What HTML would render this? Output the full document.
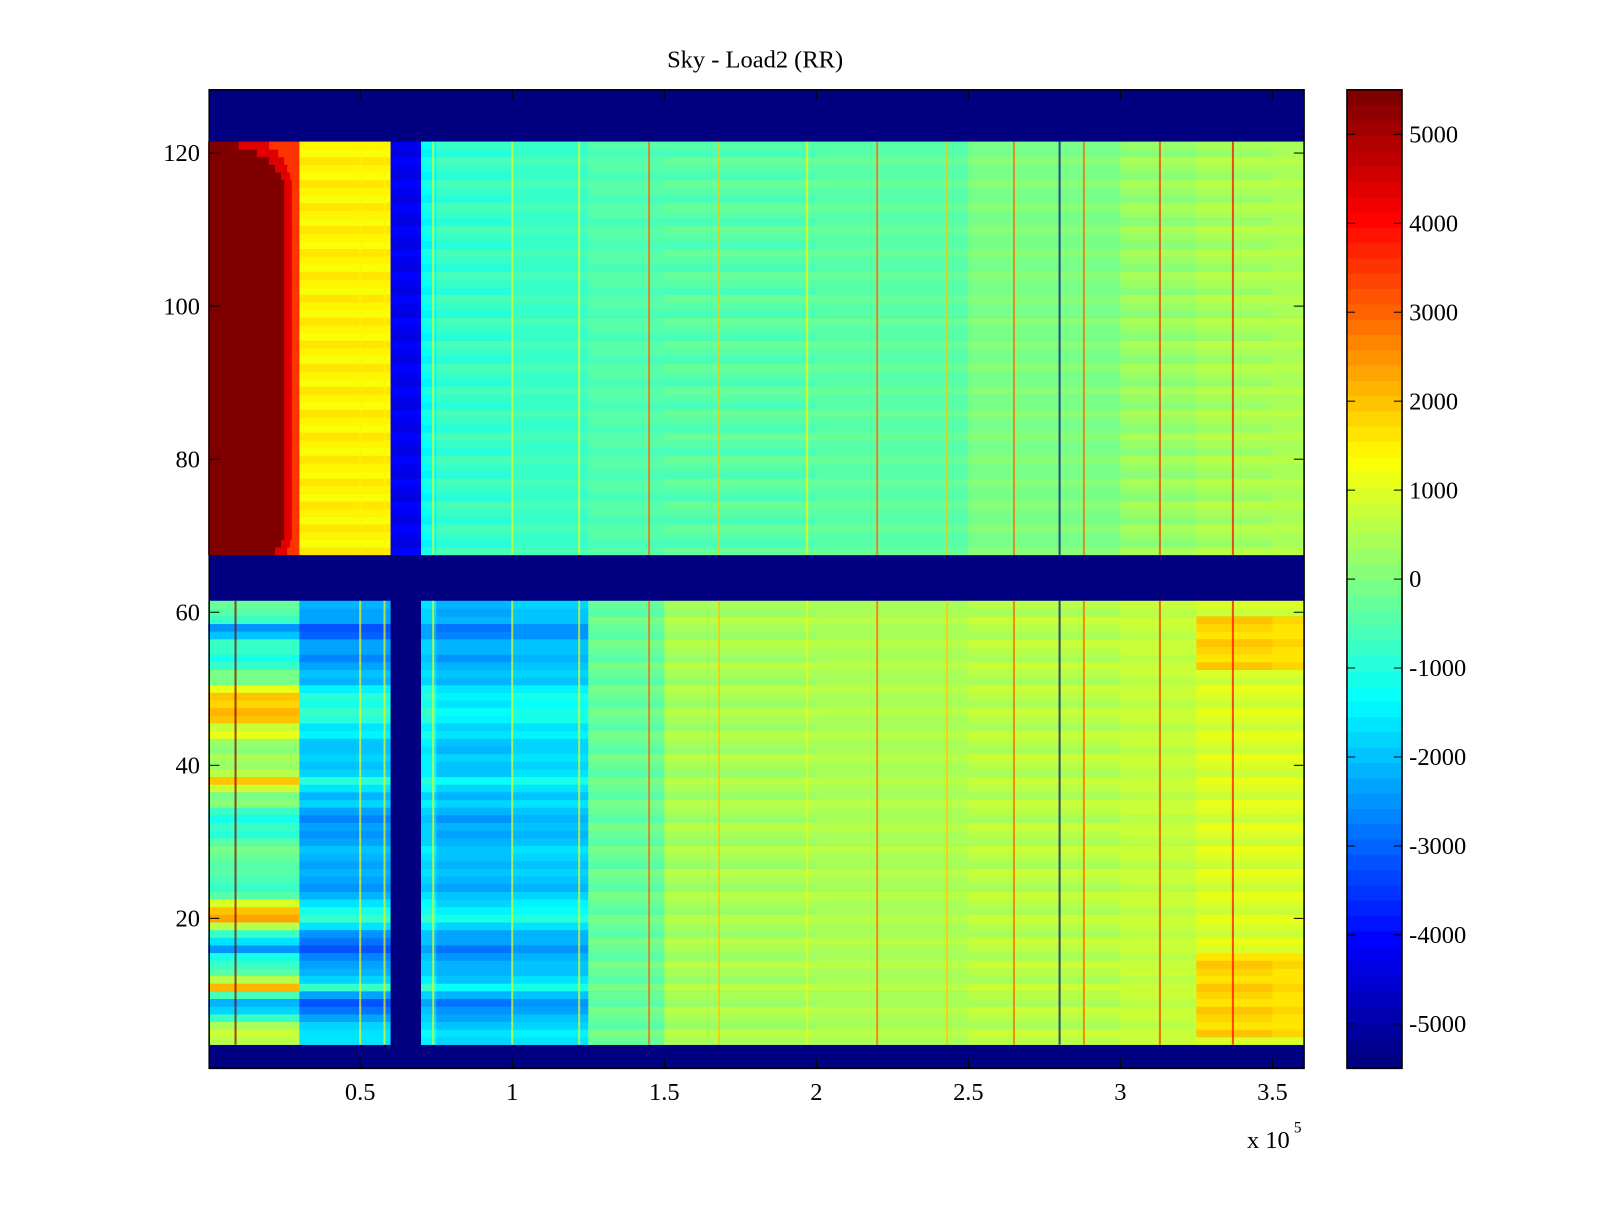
<!DOCTYPE html>
<html><head><meta charset="utf-8">
<style>
body{margin:0;background:#fff;}
svg text{font-family:"Liberation Serif",serif;font-size:24px;fill:#000;}
</style></head>
<body>
<svg id="chart" width="1600" height="1200" viewBox="0 0 1568 1176" preserveAspectRatio="none" xmlns="http://www.w3.org/2000/svg">
<rect width="1568" height="1176" fill="#fff"/>
<text x="740" y="66" text-anchor="middle">Sky - Load2 (RR)</text>
<g id="cells"></g>
<g id="spikes"></g>
<rect x="205" y="88" width="1073" height="959" fill="none" stroke="#000" stroke-width="1.5"/>
<g id="axes"></g>
<g id="cbar"></g>
<text x="1222" y="1125">x 10</text>
<text x="1268" y="1110" style="font-size:15px">5</text>
</svg>
<script>
// ---- data ----
const xTicks = [0.5, 1, 1.5, 2, 2.5, 3, 3.5];
const xTickLabels = ["0.5", "1", "1.5", "2", "2.5", "3", "3.5"];
const yTicks = [20, 40, 60, 80, 100, 120];
const cbTicks = [5000, 4000, 3000, 2000, 1000, 0, -1000, -2000, -3000, -4000, -5000];
const colStarts = [0,0.3,0.6,0.7,0.75,1.0,1.25,1.5,2.0,2.5,3.0,3.25,3.5];
const upperVals = [5500,1500,-4200,-1300,-800,-700,-500,-450,-350,0,250,400,500];
const lowerVals = [0,-2000,-5500,-1600,-2000,-1800,-300,400,500,600,700,1000,900];
const lowerRowAdj = [600,600,600,-800,-2000,-2000,-600,2000,800,-400,-900,-900,-2500,-1800,-600,600,2200,2200,900,-600,-600,-600,-600,-200,-200,-200,-200,-900,-900,-900,-700,0,0,800,1800,800,200,200,200,200,900,900,2000,2000,2000,2000,900,0,0,-900,-900,-700,-1000,-1800,-2500,-1000,-300,-300];
const hotRows = [5,6,7,8,9,10,11,12,13,14,15,53,54,55,56,57,58,59];
const upperRedEdge = [0.1,0.16,0.2,0.22,0.24,0.25];
const spikeX = [0.09,0.5,0.58,0.74,1.0,1.22,1.45,1.68,1.97,2.2,2.43,2.65,2.8,2.88,3.13,3.37];
const spikeVal = [5500,1500,1500,1200,1200,1200,3000,2000,1500,3000,2000,3000,-5500,3000,3500,4000];
const clim = [-5500, 5500];
// ---- scales ----
const X0=205,X1=1278,Y0=88,Y1=1047;
const xs = v => 204 + v*298;
const ys = r => 1050 - r*7.5;
function jet(v){
  let t=(v-clim[0])/(clim[1]-clim[0]); t=Math.max(0,Math.min(1,t));
  t=Math.floor(t*63.999)/63;
  const f=x=>Math.max(0,Math.min(1,x));
  const r=f(1.5-Math.abs(4*t-3)), g=f(1.5-Math.abs(4*t-2)), b=f(1.5-Math.abs(4*t-1));
  return `rgb(${Math.round(r*255)},${Math.round(g*255)},${Math.round(b*255)})`;
}
const NS="http://www.w3.org/2000/svg";
function mk(tag,attrs,parent){const e=document.createElementNS(NS,tag);for(const k in attrs)e.setAttribute(k,attrs[k]);parent.appendChild(e);return e;}
const cells=document.getElementById('cells');
const bg=mk('rect',{x:X0,y:Y0,width:X1-X0,height:Y1-Y0,fill:jet(-5500)},cells);


function segEnd(i){return i+1<colStarts.length?colStarts[i+1]:3.604;}
function cell(x0,x1,r,v){
  const e=mk('rect',{x:xs(x0),y:ys(r+0.5),width:xs(x1)-xs(x0)+0.3,height:7.8,fill:jet(v)},cells);
  
  
}
for(let r=68;r<=121;r++){
  for(let i=0;i<colStarts.length;i++){
    let x0=colStarts[i],x1=segEnd(i),v=upperVals[i];
    if(i===0){
      const k=(r>=116)?Math.min(5,121-r):(r<=70?r-68+3:5);
      const edge=upperRedEdge[Math.max(0,Math.min(5,k))];
      cell(x0,edge,r,v);
      const mid=(edge+x1)/2;
      cell(edge,mid,r,4300);
      cell(mid,x1,r,3500);
      continue;
    }
    cell(x0,x1,r,v+((r%3)-1)*150);
  }
}
for(let r=4;r<=61;r++){
  const adj=lowerRowAdj[r-4];
  for(let i=0;i<colStarts.length;i++){
    let v=lowerVals[i];
    if(i===0) v+=adj;
    else if(i===1) v+=adj*0.5;
    else if(i>=3&&i<=5) v+=adj*0.3;
    if(i>=11 && hotRows.indexOf(r)>=0) v+=800;
    cell(colStarts[i],segEnd(i),r,v+((r%3)-1)*150);
  }
}
const sp=document.getElementById('spikes');
spikeX.forEach((sx,i)=>{
  [[3.5,61.5],[67.5,121.5]].forEach(b=>{
    const e=mk('rect',{x:xs(sx)-1,y:ys(b[1]),width:2,height:ys(b[0])-ys(b[1]),fill:jet(spikeVal[i]),opacity:0.7},sp);
    
    
  });
});
const ax=document.getElementById('axes');
xTicks.forEach((t,i)=>{
  const x=xs(t);
  mk('line',{x1:x,y1:Y1,x2:x,y2:Y1-10,stroke:'#000','stroke-width':1},ax);
  mk('line',{x1:x,y1:Y0,x2:x,y2:Y0+10,stroke:'#000','stroke-width':1},ax);
  const tx=mk('text',{x:x,y:1078,'text-anchor':'middle'},ax);tx.textContent=xTickLabels[i];
  
  
});
yTicks.forEach(t=>{
  const y=ys(t);
  mk('line',{x1:X0,y1:y,x2:X0+10,y2:y,stroke:'#000','stroke-width':1},ax);
  mk('line',{x1:X1,y1:y,x2:X1-10,y2:y,stroke:'#000','stroke-width':1},ax);
  const tx=mk('text',{x:196,y:y+8,'text-anchor':'end'},ax);tx.textContent=String(t);
  
  
});
const cb=document.getElementById('cbar');
const CX=1320,CW=54,CY0=88,CY1=1047;
const cs=v=>CY0+(clim[1]-v)/(clim[1]-clim[0])*(CY1-CY0);
for(let k=0;k<64;k++){
  const v0=clim[0]+k*(clim[1]-clim[0])/64, v1=v0+(clim[1]-clim[0])/64;
  const e=mk('rect',{x:CX,y:cs(v1),width:CW,height:cs(v0)-cs(v1)+0.5,fill:jet((v0+v1)/2)},cb);
  
  
}
mk('rect',{x:CX,y:CY0,width:CW,height:CY1-CY0,fill:'none',stroke:'#000','stroke-width':1.5},cb);
cbTicks.forEach(t=>{
  const y=cs(t);
  mk('line',{x1:CX,y1:y,x2:CX+8,y2:y,stroke:'#000'},cb);
  mk('line',{x1:CX+CW,y1:y,x2:CX+CW-8,y2:y,stroke:'#000'},cb);
  const tx=mk('text',{x:1381,y:y+8},cb);tx.textContent=String(t);
  
  
});
</script>
</body></html>
